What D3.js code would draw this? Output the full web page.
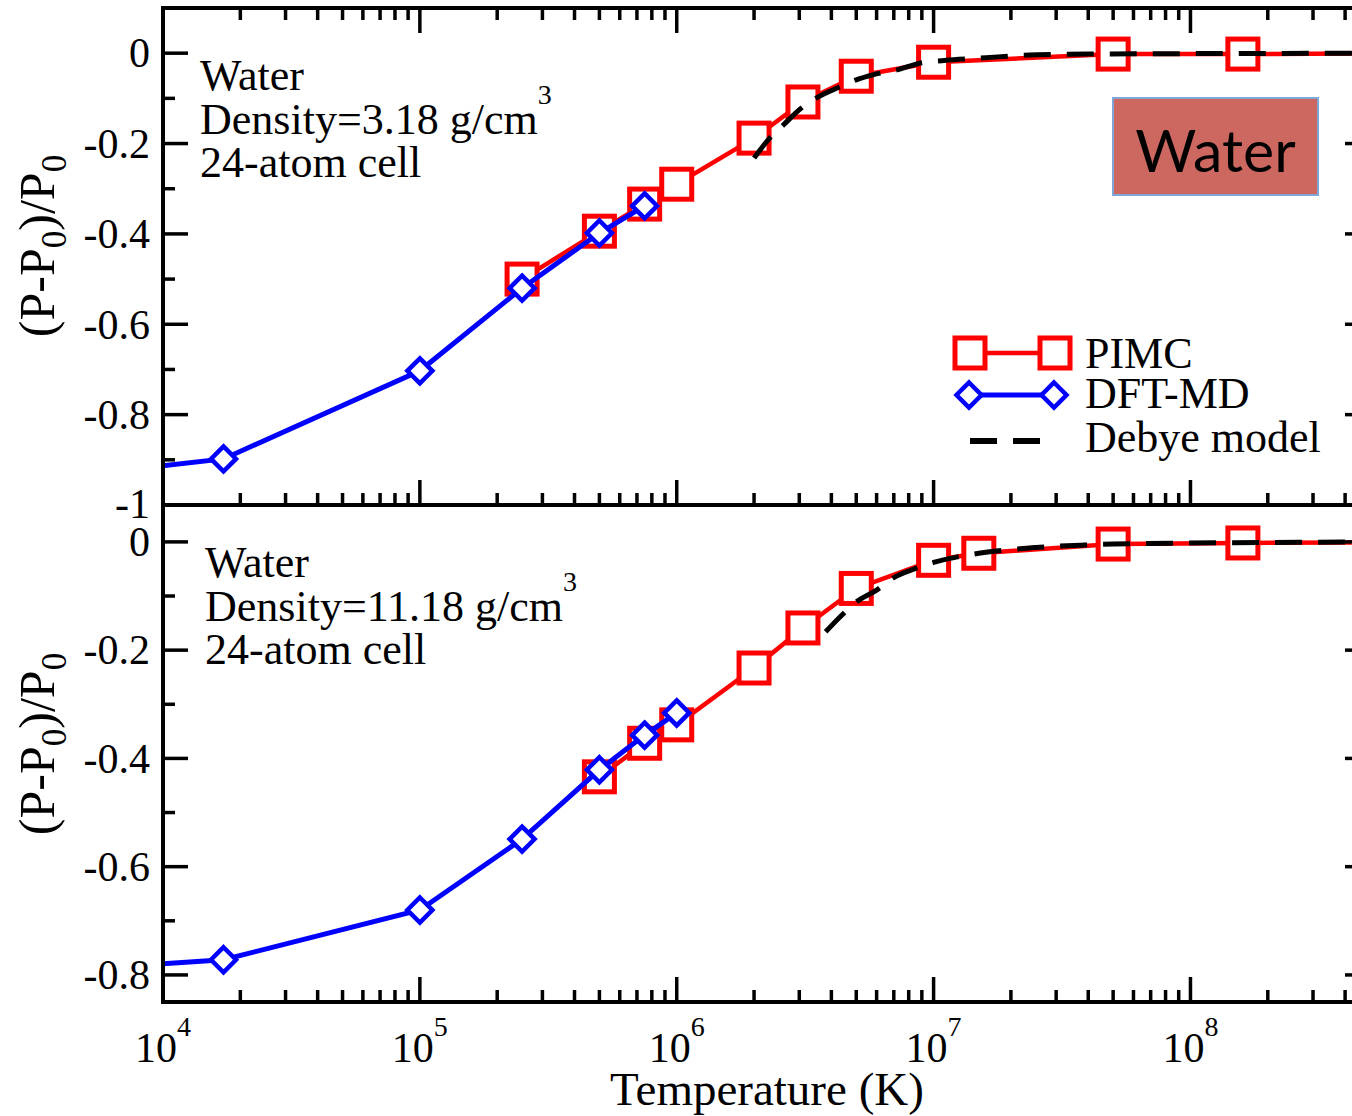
<!DOCTYPE html>
<html><head><meta charset="utf-8">
<script src="https://cdn.jsdelivr.net/npm/d3@7"></script>
<style>
html,body{margin:0;padding:0;background:#fff;overflow:hidden}
svg{display:block}
text{font-family:"Liberation Serif","Times New Roman",serif;fill:#000}
</style></head><body>
<svg id="chart" width="1352" height="1116"></svg>
<script>
// ---------- data ----------
// Top panel: density 3.18 g/cm^3
const pimcTopT   = [2.5e5, 5e5, 7.5e5, 1e6, 2e6, 3.1e6, 5e6, 1e7, 5e7, 1.6e8, 1e9];
const pimcTopV   = [-0.500, -0.394, -0.334, -0.290, -0.188, -0.108, -0.051, -0.020, -0.002, -0.002, 0];
const dftTopT    = [5e3, 1.72e4, 1e5, 2.5e5, 5e5, 7.5e5];
const dftTopV    = [-0.933, -0.898, -0.703, -0.520, -0.398, -0.338];
const debyeTopT  = [2e6, 2.3e6, 2.6e6, 3.06e6, 3.5e6, 4.3e6, 5e6, 5.8e6, 7.2e6, 9e6, 1.1e7, 1.6e7, 2.2e7, 4e7, 1e8, 1e9];
const debyeTopV  = [-0.232, -0.188, -0.159, -0.121, -0.099, -0.075, -0.059, -0.048, -0.037, -0.021, -0.016, -0.010, -0.005, -0.002, -0.001, 0];
// Bottom panel: density 11.18 g/cm^3
const pimcBotT   = [5e5, 7.5e5, 1e6, 2e6, 3.1e6, 5e6, 1e7, 1.5e7, 5e7, 1.6e8, 1e9];
const pimcBotV   = [-0.434, -0.372, -0.338, -0.233, -0.159, -0.086, -0.034, -0.021, -0.004, -0.002, 0];
const dftBotT    = [5e3, 1.72e4, 1e5, 2.5e5, 5e5, 7.5e5, 1e6];
const dftBotV    = [-0.789, -0.772, -0.680, -0.549, -0.421, -0.357, -0.316];
const debyeBotT  = [3.8e6, 4.4e6, 5e6, 6e6, 7e6, 8.3e6, 1e7, 1.5e7, 2.4e7, 3.8e7, 5e7, 1e8, 2e8, 1e9];
const debyeBotV  = [-0.166, -0.135, -0.111, -0.089, -0.066, -0.051, -0.038, -0.021, -0.011, -0.006, -0.004, -0.002, -0.001, 0];
// ticks / labels
const xDecades   = [1e4, 1e5, 1e6, 1e7, 1e8];
const xDecadeExp = ["4", "5", "6", "7", "8"];
const yTopMajor  = [0, -0.2, -0.4, -0.6, -0.8, -1];
const yTopLabels = ["0", "-0.2", "-0.4", "-0.6", "-0.8", "-1"];
const yTopMinor  = [-0.1, -0.3, -0.5, -0.7, -0.9];
const yBotMajor  = [0, -0.2, -0.4, -0.6, -0.8];
const yBotLabels = ["0", "-0.2", "-0.4", "-0.6", "-0.8"];
const yBotMinor  = [-0.1, -0.3, -0.5, -0.7];
const legendNames = ["PIMC", "DFT-MD", "Debye model"];
const infoTop = ["Water", "Density=3.18 g/cm", "24-atom cell"];
const infoBot = ["Water", "Density=11.18 g/cm", "24-atom cell"];

// ---------- layout ----------
const svg = d3.select("#chart");
const X0 = 163, X1 = 1370;
const x = d3.scaleLog().domain([1e4, 5e8]).range([X0, X1]);
const yTop = d3.scaleLinear().domain([-1, 0.1]).range([505, 8]);
const yBot = d3.scaleLinear().domain([-0.85, 0.07]).range([1002, 504]);
const RED = "#ff0000", BLUE = "#0000ff";
const MAJ = 25, MIN = 12, AXW = 4;

const defs = svg.append("defs");
function clip(id, y) {
  defs.append("clipPath").attr("id", id).append("rect")
    .attr("x", X0).attr("y", y.range()[1]).attr("width", X1 - X0).attr("height", y.range()[0] - y.range()[1]);
}
clip("cTop", yTop); clip("cBot", yBot);

const minorX = [];
xDecades.forEach(d => { for (let k = 2; k <= 9; k++) { const v = k * d; if (v < 5e8) minorX.push(v); } });

function panel(y, clipId, pT, pV, dT, dV, bT, bV, topTicks) {
  const g = svg.append("g");
  const pts = (T, V) => T.map((t, i) => [x(t), y(V[i])]);
  const line = d3.line();
  const body = g.append("g").attr("clip-path", `url(#${clipId})`);
  // PIMC
  body.append("path").attr("d", line(pts(pT, pV))).attr("fill", "none").attr("stroke", RED).attr("stroke-width", 4.5);
  body.selectAll("rect.sq").data(pts(pT, pV)).join("rect").attr("class", "sq")
    .attr("x", d => d[0] - 15).attr("y", d => d[1] - 15).attr("width", 30).attr("height", 30)
    .attr("fill", "#fff").attr("stroke", RED).attr("stroke-width", 5);
  // DFT-MD
  body.append("path").attr("d", line(pts(dT, dV))).attr("fill", "none").attr("stroke", BLUE).attr("stroke-width", 5);
  body.selectAll("path.dm").data(pts(dT, dV)).join("path").attr("class", "dm")
    .attr("d", d => `M${d[0]},${d[1] - 12.5}L${d[0] + 12.5},${d[1]}L${d[0]},${d[1] + 12.5}L${d[0] - 12.5},${d[1]}Z`)
    .attr("fill", "#fff").attr("stroke", BLUE).attr("stroke-width", 4.5);
  // Debye
  body.append("path").attr("d", d3.line().curve(d3.curveMonotoneX)(pts(bT, bV)))
    .attr("fill", "none").attr("stroke", "#000").attr("stroke-width", 5).attr("stroke-dasharray", "27,16");

  // axes frame & ticks
  const yb = y.range()[0], yt = y.range()[1];
  const ax = g.append("g").attr("stroke", "#000").attr("stroke-width", AXW).attr("fill", "none");
  ax.append("path").attr("d", `M${X0},${yt}V${yb}H${X1}V${yt}${topTicks ? "H" + X0 : ""}`).attr("stroke-linecap", "square");
  const tk = g.append("g").attr("stroke", "#000").attr("stroke-width", 3.5);
  xDecades.forEach(v => tk.append("line").attr("x1", x(v)).attr("x2", x(v)).attr("y1", yb).attr("y2", yb - MAJ));
  minorX.forEach(v => tk.append("line").attr("x1", x(v)).attr("x2", x(v)).attr("y1", yb).attr("y2", yb - MIN));
  if (topTicks) {
    xDecades.forEach(v => tk.append("line").attr("x1", x(v)).attr("x2", x(v)).attr("y1", yt).attr("y2", yt + MAJ));
    minorX.forEach(v => tk.append("line").attr("x1", x(v)).attr("x2", x(v)).attr("y1", yt).attr("y2", yt + MIN));
  }
  return {g, tk};
}

const pTop = panel(yTop, "cTop", pimcTopT, pimcTopV, dftTopT, dftTopV, debyeTopT, debyeTopV, true);
const pBot = panel(yBot, "cBot", pimcBotT, pimcBotV, dftBotT, dftBotV, debyeBotT, debyeBotV, false);

function yTicks(p, y, major, labels, minor) {
  major.forEach((v, i) => {
    p.tk.append("line").attr("x1", X0).attr("x2", X0 + MAJ).attr("y1", y(v)).attr("y2", y(v));
    p.tk.append("line").attr("x1", X1).attr("x2", X1 - MAJ).attr("y1", y(v)).attr("y2", y(v));
    svg.append("text").attr("x", 150).attr("y", y(v)).attr("dy", v === -1 ? "0.3em" : "0.34em").attr("text-anchor", "end")
      .attr("font-size", 42).text(labels[i]);
  });
  minor.forEach(v => {
    p.tk.append("line").attr("x1", X0).attr("x2", X0 + MIN).attr("y1", y(v)).attr("y2", y(v));
    p.tk.append("line").attr("x1", X1).attr("x2", X1 - MIN).attr("y1", y(v)).attr("y2", y(v));
  });
}
yTicks(pTop, yTop, yTopMajor, yTopLabels, yTopMinor);
yTicks(pBot, yBot, yBotMajor, yBotLabels, yBotMinor);

// x tick labels
xDecades.forEach((v, i) => {
  const t = svg.append("text").attr("x", x(v)).attr("y", 1062).attr("text-anchor", "middle").attr("font-size", 42);
  t.append("tspan").text("10");
  t.append("tspan").attr("dy", -26).attr("font-size", 28).text(xDecadeExp[i]);
});
svg.append("text").attr("x", 767).attr("y", 1105).attr("text-anchor", "middle").attr("font-size", 47).text("Temperature (K)");

// y titles
function yTitle(cy) {
  const t = svg.append("text").attr("transform", `translate(54,${cy}) rotate(-90)`).attr("text-anchor", "middle").attr("font-size", 50);
  t.append("tspan").text("(P-P");
  t.append("tspan").attr("dy", 12).attr("font-size", 35).text("0");
  t.append("tspan").attr("dy", -12).text(")/P");
  t.append("tspan").attr("dy", 12).attr("font-size", 35).text("0");
}
yTitle(246); yTitle(744);

// panel annotations
function info(lines, x0, y0) {
  lines.forEach((s, i) => {
    const t = svg.append("text").attr("x", x0).attr("y", y0 + i * 43.5).attr("font-size", 44);
    t.append("tspan").text(s);
    if (i === 1) t.append("tspan").attr("dy", -30).attr("font-size", 28).text("3");
  });
}
info(infoTop, 200, 90);
info(infoBot, 205, 577);

// Water box
svg.append("rect").attr("x", 1113).attr("y", 98).attr("width", 205).attr("height", 97)
  .attr("fill", "#cc6860").attr("stroke", "#7fa6d6").attr("stroke-width", 2);
svg.append("text").attr("x", 1215.5).attr("y", 172).attr("text-anchor", "middle")
  .style("font-family", "Lato, 'Open Sans', sans-serif").attr("font-size", 59).text("Water");

// legend
const lg = svg.append("g");
const lx0 = 970, lx1 = 1055, ly = [353, 395, 441], tb = [368, 408, 452];
lg.append("line").attr("x1", lx0).attr("x2", lx1).attr("y1", ly[0]).attr("y2", ly[0]).attr("stroke", RED).attr("stroke-width", 4.5);
[lx0, lx1].forEach(cx => lg.append("rect").attr("x", cx - 15).attr("y", ly[0] - 15).attr("width", 30).attr("height", 30)
  .attr("fill", "#fff").attr("stroke", RED).attr("stroke-width", 5));
lg.append("line").attr("x1", lx0 - 1).attr("x2", lx1 - 1).attr("y1", ly[1]).attr("y2", ly[1]).attr("stroke", BLUE).attr("stroke-width", 5);
[lx0 - 1, lx1 - 1].forEach(cx => lg.append("path")
  .attr("d", `M${cx},${ly[1] - 12.5}L${cx + 12.5},${ly[1]}L${cx},${ly[1] + 12.5}L${cx - 12.5},${ly[1]}Z`)
  .attr("fill", "#fff").attr("stroke", BLUE).attr("stroke-width", 4.5));
lg.append("line").attr("x1", lx0).attr("x2", lx0 + 71).attr("y1", ly[2]).attr("y2", ly[2])
  .attr("stroke", "#000").attr("stroke-width", 6).attr("stroke-dasharray", "27,16");
legendNames.forEach((n, i) => lg.append("text").attr("x", 1085).attr("y", tb[i]).attr("font-size", 44).text(n));
</script></body></html>
